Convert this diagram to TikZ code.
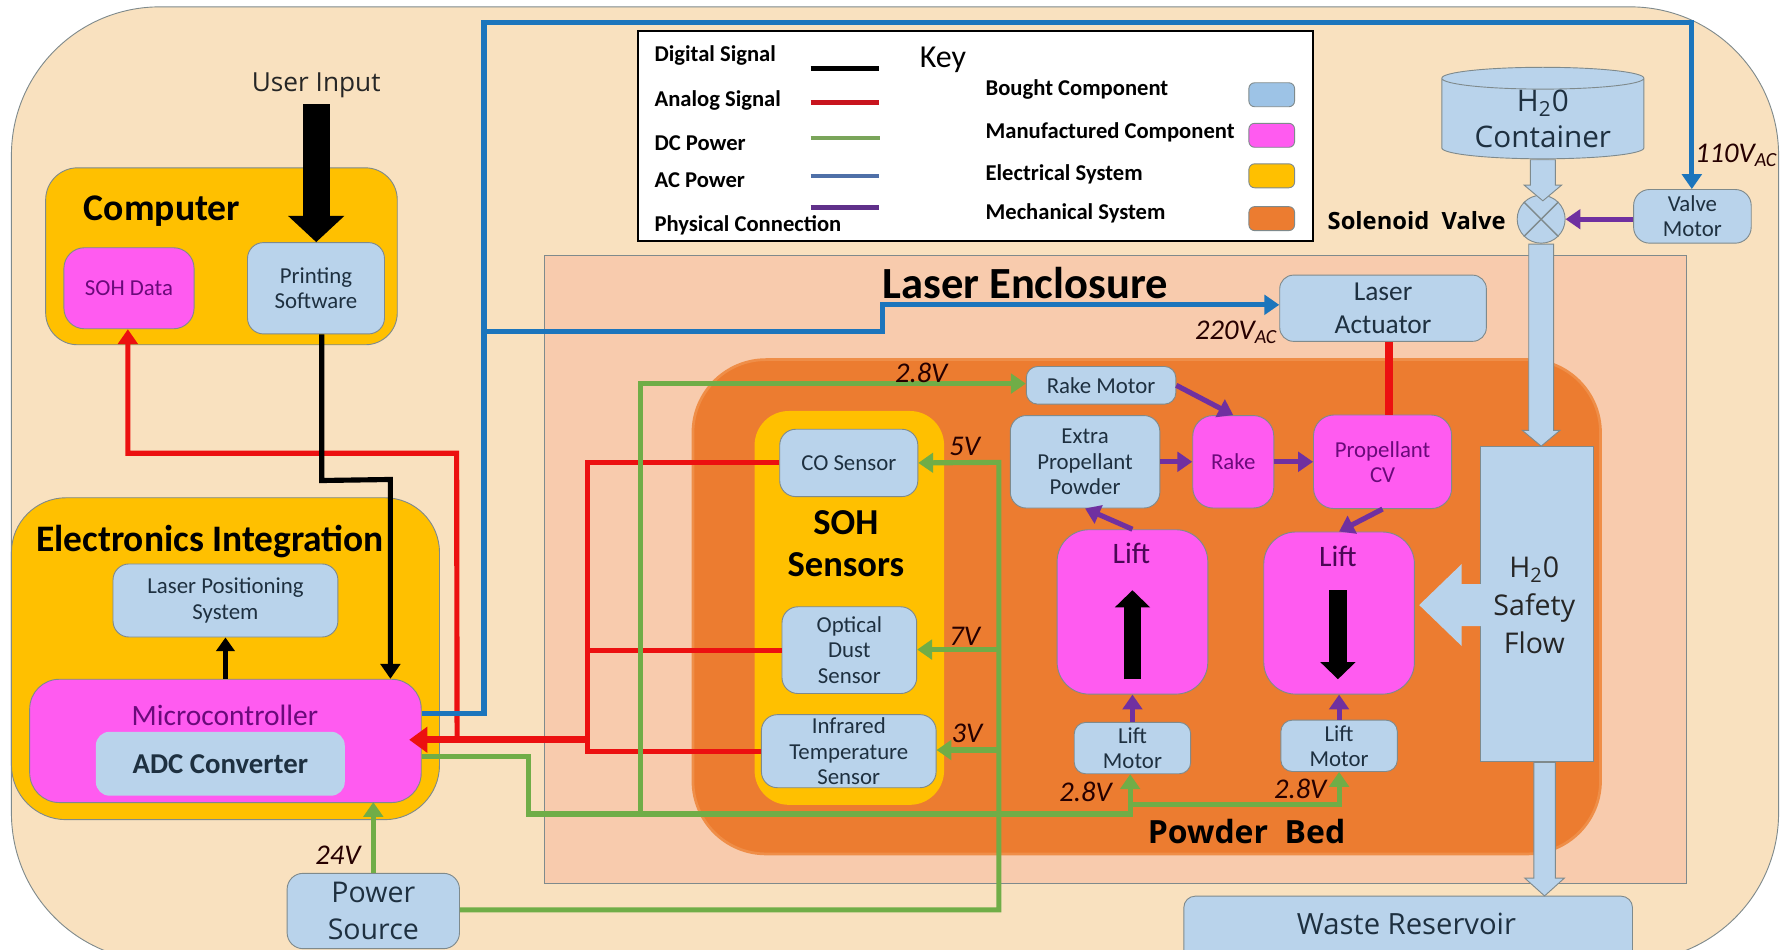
\documentclass[tikz,border=0pt]{standalone}
\usepackage{fontspec}
\setmainfont{Carlito}
\newfontfamily\wide{Open Sans}
\usetikzlibrary{arrows.meta,calc,positioning,shapes.arrows,shapes.geometric}

\definecolor{skin}{HTML}{F9E1BF}
\definecolor{enclosure}{HTML}{F8CBAD}
\definecolor{bed}{HTML}{EC7C30}
\definecolor{bedrim}{HTML}{EF8E48}
\definecolor{elec}{HTML}{FFC000}
\definecolor{bought}{HTML}{B9D3EB}
\definecolor{keybought}{HTML}{9DC3E6}
\definecolor{made}{HTML}{FF5BF0}
\definecolor{madetext}{HTML}{6A0A7A}
\definecolor{boughttext}{HTML}{1E3040}
\definecolor{edge}{HTML}{7F8A8C}
\definecolor{redline}{HTML}{EC1010}
\definecolor{greenline}{HTML}{70AD47}
\definecolor{blueline}{HTML}{1C75BC}
\definecolor{purpleline}{HTML}{7030A0}
\definecolor{keyred}{HTML}{C8141E}
\definecolor{keygreen}{HTML}{7AA55A}
\definecolor{keyblue}{HTML}{4F70A8}
\definecolor{keypurple}{HTML}{60308A}

\begin{document}
\begin{tikzpicture}[
  x=0.5pt,y=-0.5pt,
  boxsize/.style 2 args={minimum width=#1*0.5pt,minimum height=#2*0.5pt},
  small/.style={font=\fontsize{10}{11}\selectfont},
  boughtbox/.style={draw=edge,fill=bought,text=boughttext,rounded corners=7pt,inner sep=0pt,align=center,small},
  madebox/.style={draw=edge,fill=made,text=madetext,rounded corners=9pt,inner sep=0pt,align=center,small},
  system/.style={draw=edge,fill=elec,rounded corners=14pt,inner sep=0pt},
  title/.style={font=\fontsize{16.5}{18.5}\selectfont\bfseries,text=black,align=center,inner sep=0pt},
  keytext/.style={font=\fontsize{9.9}{11}\selectfont\bfseries,anchor=west,inner sep=0pt},
  swatch/.style={draw=edge,rounded corners=2.5pt,minimum width=20pt,minimum height=10.5pt,inner sep=0pt},
  volt/.style={font=\fontsize{12.5}{13}\selectfont\itshape,text=black!85!red,inner sep=0pt},
  wire/.style={line width=2.25pt},
  tip/.style={-{Triangle[length=6.5pt,width=8.5pt]}},
  keyline/.style={line width=2pt},
  flow/.style={single arrow,draw=edge,fill=bought,inner xsep=0pt,inner ysep=5.25pt,single arrow head indent=0pt,single arrow head extend=2.75pt,single arrow tip angle=100}
]
  \useasboundingbox (0,0) rectangle (1568,832);

  % outer body and the two enclosures
  \node[draw=edge,fill=skin,rounded corners=65pt,boxsize={1548}{836},inner sep=0pt] (body) at (784,424) {};
  \node[draw=edge,fill=enclosure,boxsize={1000}{550},inner sep=0pt] (enclosure) at (977,499) {};
  \node[draw=bedrim,line width=1.2pt,fill=bed,rounded corners=32pt,boxsize={795}{433},inner sep=0pt] (bed) at (1004.5,531.5) {};
  \node[title,font=\fontsize{19.5}{20}\selectfont\bfseries] (enclosuretitle) at (898,248) {Laser Enclosure};
  \node[title,font=\wide\fontsize{14}{16}\selectfont\bfseries] (bedtitle) at (1092,728) {Powder\ \ Bed};

  % key
  \node[draw=black,line width=0.8pt,fill=white,boxsize={591}{184},inner sep=0pt] (keybox) at (854.5,119) {};
  \node[font=\fontsize{14}{15}\selectfont,inner sep=0pt] (keytitle) at (826,52) {Key};
  \node[keytext] (kdigital) at (573,49) {Digital Signal};
  \node[keytext] (kanalog) at (573,88) {Analog Signal};
  \node[keytext] (kdc) at (573,125) {DC Power};
  \node[keytext] (kac) at (573,158) {AC Power};
  \node[keytext] (kphys) at (573,197) {Physical Connection};
  \coordinate (kdigitalA) at (710,60);
  \coordinate (kdigitalB) at (770,60);
  \coordinate (kanalogA) at (710,90);
  \coordinate (kanalogB) at (770,90);
  \coordinate (kdcA) at (710,121);
  \coordinate (kdcB) at (771,121);
  \coordinate (kacA) at (710,154);
  \coordinate (kacB) at (770,154);
  \coordinate (kphysA) at (710,182);
  \coordinate (kphysB) at (770,182);
  \draw[keyline,black] (kdigitalA) -- (kdigitalB);
  \draw[keyline,keyred] (kanalogA) -- (kanalogB);
  \draw[keyline,keygreen] (kdcA) -- (kdcB);
  \draw[keyline,keyblue] (kacA) -- (kacB);
  \draw[keyline,keypurple] (kphysA) -- (kphysB);
  \node[keytext] (kbought) at (863,78) {Bought Component};
  \node[keytext] (kmade) at (863,116) {Manufactured Component};
  \node[keytext] (kelec) at (863,153) {Electrical System};
  \node[keytext] (kmech) at (863,187) {Mechanical System};
  \node[swatch,fill=keybought] (sbought) at (1114,83) {};
  \node[swatch,fill=made] (smade) at (1114,118.5) {};
  \node[swatch,fill=elec] (selec) at (1114,154) {};
  \node[swatch,fill=bed] (smech) at (1114,191.5) {};

  % computer
  \node[system,boxsize={308}{155}] (computer) at (194,224.5) {};
  \node[title] (computertitle) at (142,185) {Computer};
  \node[madebox,boxsize={114}{71}] (sohdata) at (113,252.5) {SOH Data};
  \node[boughtbox,boxsize={120}{80},right=23pt of sohdata] (printing) {Printing\\Software};
  \node[font=\wide\fontsize{11.5}{13}\selectfont,text=black!85,inner sep=0pt,minimum height=16pt] (input) at (277,75) {User\ Input};

  % electronics
  \node[system,rounded corners=24pt,boxsize={375}{282}] (electronics) at (197.5,577) {};
  \node[title,font=\fontsize{16.4}{17}\selectfont\bfseries] (electronicstitle) at (184,474) {Electronics Integration};
  \node[boughtbox,boxsize={197}{64}] (positioning) at (197.5,526) {Laser Positioning\\System};
  \node[madebox,rounded corners=13pt,boxsize={343}{108}] (micro) at (197.5,649) {};
  \node[font=\fontsize{12.9}{14}\selectfont,text=madetext,inner sep=0pt] (microtitle) at (197,627) {Microcontroller};
  \node[fill=bought,rounded corners=6pt,boxsize={218}{56},inner sep=0pt,font=\fontsize{12.6}{14}\selectfont\bfseries,text=boughttext] (adc) at (193,669) {ADC Converter};
  \node[boughtbox,boxsize={151}{66},font=\wide\fontsize{12.5}{16.5}\selectfont] (power) at (327,798) {Power\\Source};

  % water
  \node[draw=edge,fill=bought,cylinder,shape border rotate=90,shape aspect=0.16,boxsize={177}{64},inner sep=0pt,align=center,font=\wide\fontsize{13}{16}\selectfont,text=boughttext] (container) at (1351.5,104) {H\textsubscript{2}0\\Container};
  \node[circle,draw=edge,fill=bought,minimum size=21pt,inner sep=0pt] (valve) at (1350,192) {};
  \draw[edge,line width=0.6pt] (valve.north west) -- (valve.south east);
  \draw[edge,line width=0.6pt] (valve.north east) -- (valve.south west);
  \node[font=\wide\fontsize{10.4}{12}\selectfont\bfseries,inner sep=0pt] (valvetext) at (1241,193) {Solenoid\ \ Valve};
  \node[boughtbox,boxsize={103}{47}] (valvemotor) at (1482.5,189.5) {Valve\\Motor};
  \node[boughtbox,rounded corners=6pt,boxsize={181}{58},font=\fontsize{12}{14.5}\selectfont] (actuator) at (1211.5,270) {Laser\\Actuator};
  \node[draw=edge,fill=bought,text=boughttext,boxsize={99}{276},inner sep=0pt] (safety) at (1346.5,529) {};
  \node[font=\wide\fontsize{12.5}{16.75}\selectfont,text=black!85,align=center,inner sep=0pt] (safetytext) at (1344,530) {H\textsubscript{2}0\\Safety\\Flow};
  \node[boughtbox,rounded corners=5pt,boxsize={393}{60}] (waste) at (1233.5,815) {};
  \node[font=\wide\fontsize{12.8}{14}\selectfont,text=boughttext,inner sep=0pt] (wastetext) at (1232,809) {Waste Reservoir};

  \node[flow,rotate=-90,anchor=tail,minimum height=18pt] (flowin) at (container.south) {};
  \node[flow,rotate=-90,anchor=tail,minimum height=88.5pt] (flowdown) at (valve.south) {};
  \node[flow,rotate=-90,anchor=tail,minimum height=58.5pt,inner ysep=4.5pt,single arrow head extend=4pt,single arrow tip angle=96] (flowout) at ($(safety.south)+(6.5,0)$) {};
  \node[flow,draw=none,rotate=180,anchor=tail,minimum height=27.5pt,inner ysep=9pt,single arrow head extend=8.75pt,single arrow tip angle=88] (flowlift) at ($(safety.west)+(2,1)$) {};

  % soh sensors
  \node[fill=elec,rounded corners=15pt,boxsize={166}{345},inner sep=0pt] (sensors) at (744,532.5) {};
  \node[title,font=\fontsize{16}{18.5}\selectfont\bfseries] (sensorstitle) at (741,476) {SOH\\Sensors};
  \node[boughtbox,boxsize={121}{59}] (co) at (743.5,405.5) {CO Sensor};
  \node[boughtbox,boxsize={118}{76}] (dust) at (744,569.5) {Optical\\Dust\\Sensor};
  \node[boughtbox,boxsize={153}{64}] (infrared) at (743.5,658) {Infrared\\Temperature\\Sensor};

  % powder bed
  \node[boughtbox,rounded corners=5pt,boxsize={131}{33}] (rakemotor) at (964.5,337.5) {Rake Motor};
  \node[boughtbox,boxsize={131}{81}] (extra) at (950.5,404.5) {Extra\\Propellant\\Powder};
  \node[madebox,boxsize={71}{81},right=14pt of extra] (rake) {Rake};
  \node[madebox,boxsize={121}{82},right=17pt of rake] (propellant) {Propellant\\CV};
  \node[madebox,rounded corners=14pt,boxsize={132}{144}] (liftup) at (992,536) {};
  \node[madebox,rounded corners=14pt,boxsize={132}{142}] (liftdown) at (1173,537) {};
  \node[font=\fontsize{13}{14}\selectfont,text=madetext!70!black,inner sep=0pt] (liftuptext) at (991,485) {Lift};
  \node[font=\fontsize{13}{14}\selectfont,text=madetext!70!black,inner sep=0pt] (liftdowntext) at (1172,487) {Lift};
  \node[boughtbox,rounded corners=5pt,boxsize={102}{45},below=12pt of liftup] (motorup) {Lift\\Motor};
  \node[boughtbox,rounded corners=5pt,boxsize={102}{45},below=11pt of liftdown] (motordown) {Lift\\Motor};
  \coordinate (upA) at (992,595);
  \coordinate (upB) at (992,517);
  \coordinate (downA) at (1172,517);
  \coordinate (downB) at (1172,595);
  \draw[line width=7.5pt,-{Triangle[length=7.5pt,width=15pt]}] (upA) -- (upB);
  \draw[line width=7.5pt,-{Triangle[length=7.5pt,width=15pt]}] (downA) -- (downB);

  % analog
  \coordinate (adcbus) at (515,648);
  \coordinate (fire) at ($(actuator.south)+(5.5,0)$);
  \draw[wire,redline] (co.west) -- (adcbus |- co.west) -- (adcbus);
  \draw[wire,redline] (dust.west) -- (adcbus |- dust.west);
  \draw[wire,redline] (infrared.west) -- (adcbus |- infrared.west) -- (adcbus);
  \draw[redline,line width=3pt,-{Triangle[length=8pt,width=11pt]}] (adcbus) -- ($(micro.east)+(-11,-1)$);
  \draw[wire,redline,tip] ($(micro.east)+(31,-1)$) -- (400,397) -- (112,397) -- (sohdata.south -| 112,0);
  \draw[redline,line width=3.5pt] (fire) -- (fire |- propellant.north);

  % digital
  \draw[wire,black] ($(printing.south)+(5,0)$) -- ($(printing.south)+(5,128)$) -- (342,420) -- ($(micro.north)+(144.5,-10)$);
  \draw[black,wire,tip] (342,420) -- ($(micro.north)+(144.5,0)$);
  \draw[black,line width=2pt,-{Triangle[length=6pt,width=8pt]}] (micro.north) -- (positioning.south);
  \draw[line width=12pt,-{Triangle[length=11.5pt,width=24pt]}] (input.south) -- (input.south |- printing.north);

  % ac power
  \coordinate (acbus) at (424,290);
  \draw[wire,blueline,tip] ($(micro.east)+(0,-24)$) -- ($(acbus)+(0,335)$) -- (424,20) -- (1482,20) -- (valvemotor.north -| 1482,0);
  \draw[wire,blueline,tip] (acbus) -- (773,290) -- (773,267) -- (actuator.west |- 773,267);

  % dc power
  \coordinate (dcbus) at (875,797);
  \coordinate (liftbus) at (561,713);
  \draw[wire,greenline,tip] (power.north) -- ($(power.north)+(0,-62)$);
  \draw[wire,greenline,tip] (power.east |- dcbus) -- (dcbus) -- (875,405) -- (co.east);
  \draw[wire,greenline,tip] (875,569) -- (dust.east |- 875,569);
  \draw[wire,greenline,tip] (875,657) -- (infrared.east |- 875,657);
  \draw[wire,greenline,tip] ($(micro.east)+(0,14)$) -- (463,663) -- (463,713) -- (liftbus) -- (990,713) -- (motorup.south -| 990,0);
  \draw[wire,greenline,tip] (990,705) -- (1173,705) -- (motordown.south);
  \draw[wire,greenline,tip] (liftbus) -- (561,336) -- (rakemotor.west |- 561,336);

  % physical
  \draw[wire,purpleline,tip] (rakemotor.east) -- (rake.north);
  \draw[wire,purpleline,tip] (extra.east) -- (rake.west);
  \draw[wire,purpleline,tip] (rake.east) -- (propellant.west);
  \draw[wire,purpleline,tip] (liftup.north) -- (extra.south);
  \draw[wire,purpleline,tip] (propellant.south) -- (liftdown.north);
  \draw[wire,purpleline,tip] (motorup.north) -- (liftup.south);
  \draw[wire,purpleline,tip] (motordown.north) -- (liftdown.south);
  \draw[wire,purpleline,tip] (valvemotor.west |- valve.east) -- (valve.east);

  % voltages
  \node[volt] (vrake) at (807,327) {2.8V};
  \node[volt] (vco) at (845,391) {5V};
  \node[volt] (vdust) at (845,557) {7V};
  \node[volt] (vir) at (847,642) {3V};
  \node[volt] (vup) at (951,694) {2.8V};
  \node[volt] (vdown) at (1139,691) {2.8V};
  \node[volt] (vmicro) at (296,749) {24V};
  \node[volt] (vlaser) at (1083,291) {220V\textsubscript{AC}};
  \node[volt] (vvalve) at (1521,136) {110V\textsubscript{AC}};
\end{tikzpicture}
\end{document}
